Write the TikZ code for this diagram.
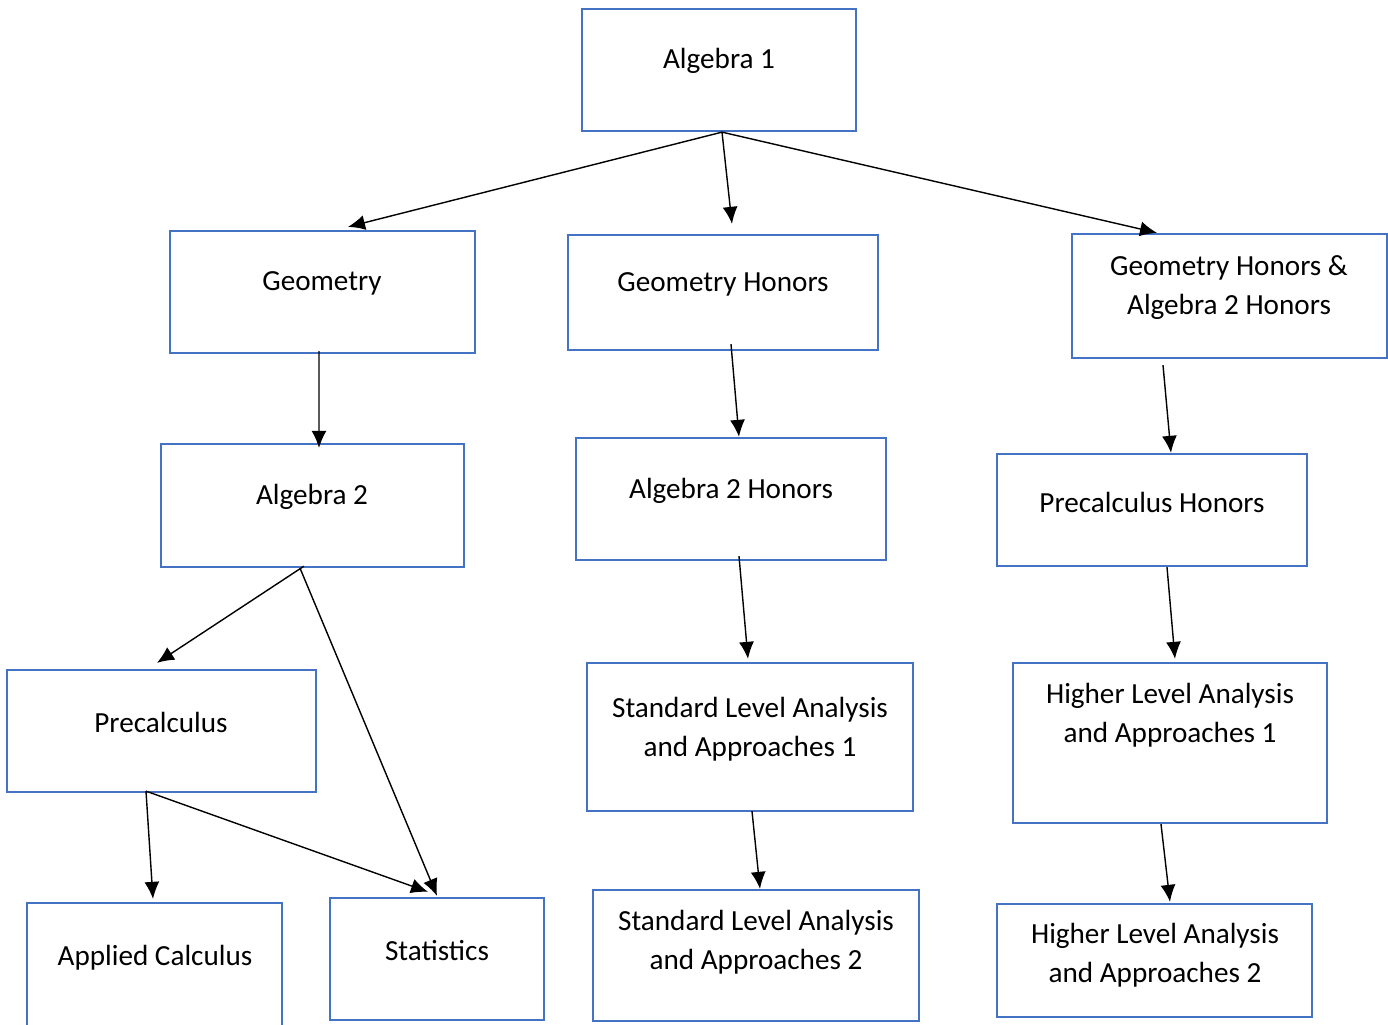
\documentclass[tikz,border=0pt]{standalone}
\usepackage{fontspec}
\setmainfont{Carlito}
\usetikzlibrary{arrows.meta}
\definecolor{boxblue}{HTML}{4472C4}

\begin{document}
\begin{tikzpicture}[
	box/.style={draw=boxblue, line width=1.3pt, rectangle},
	txt/.style={align=center, inner sep=0pt, yshift=-0.04cm, font=\fontsize{16.6}{22.2}\selectfont},
	arr/.style={-{Latex[length=0.34cm,width=0.3cm]}, line width=0.8pt}
	]
	
	\clip (0,0) rectangle (27.76,-20.5);
	\useasboundingbox (0,0) rectangle (27.76,-20.5);
	
	% course boxes
	\node [box, minimum width=5.48cm, minimum height=2.44cm] (alg1) at (14.38,-1.40){};
	\node [box, minimum width=6.10cm, minimum height=2.44cm] (geo) at (6.45,-5.84){};
	\node [box, minimum width=6.20cm, minimum height=2.30cm] (geoh) at (14.46,-5.85){};
	\node [box, minimum width=6.30cm, minimum height=2.48cm] (gha) at (24.59,-5.92){};
	\node [box, minimum width=6.06cm, minimum height=2.46cm] (alg2) at (6.25,-10.11){};
	\node [box, minimum width=6.20cm, minimum height=2.44cm] (alg2h) at (14.62,-9.98){};
	\node [box, minimum width=6.20cm, minimum height=2.24cm] (pch) at (23.04,-10.20){};
	\node [box, minimum width=6.18cm, minimum height=2.44cm] (prec) at (3.23,-14.62){};
	\node [box, minimum width=6.52cm, minimum height=2.96cm] (sl1) at (15.00,-14.74){};
	\node [box, minimum width=6.28cm, minimum height=3.20cm] (hl1) at (23.40,-14.86){};
	\node [box, minimum width=5.10cm, minimum height=2.50cm] (apc) at (3.09,-19.31){};
	\node [box, minimum width=4.28cm, minimum height=2.44cm] (stat) at (8.74,-19.18){};
	\node [box, minimum width=6.52cm, minimum height=2.62cm] (sl2) at (15.12,-19.11){};
	\node [box, minimum width=6.30cm, minimum height=2.26cm] (hl2) at (23.09,-19.21){};
	
	% course names
	\node [txt] (alg1t) at (14.38,-1.18){Algebra 1};
	\node [txt] (geot) at (6.44,-5.62){Geometry};
	\node [txt] (geoht) at (14.46,-5.64){Geometry Honors};
	\node [txt] (ghat) at (24.58,-5.71){Geometry Honors \&\\Algebra 2 Honors};
	\node [txt] (alg2t) at (6.24,-9.90){Algebra 2};
	\node [txt] (alg2ht) at (14.62,-9.78){Algebra 2 Honors};
	\node [txt] (pcht) at (23.04,-10.00){Precalculus Honors};
	\node [txt] (prect) at (3.22,-14.40){Precalculus};
	\node [txt] (sl1t) at (15.00,-14.54){Standard Level Analysis\\and Approaches 1};
	\node [txt] (hl1t) at (23.40,-14.27){Higher Level Analysis\\and Approaches 1};
	\node [txt] (apct) at (3.10,-19.12){Applied Calculus};
	\node [txt] (statt) at (8.74,-18.98){Statistics};
	\node [txt] (sl2t) at (15.12,-18.81){Standard Level Analysis\\and Approaches 2};
	\node [txt] (hl2t) at (23.10,-19.07){Higher Level Analysis\\and Approaches 2};
	
	\draw[arr] ([xshift=0.06cm]alg1.south) -- ([xshift=0.51cm,yshift=0.06cm]geo.north);
	\draw[arr] ([xshift=0.06cm]alg1.south) -- ([xshift=0.18cm,yshift=0.2cm]geoh.north);
	\draw[arr] ([xshift=0.06cm]alg1.south) -- ([xshift=-1.45cm]gha.north);
	\draw[arr] ([xshift=-0.07cm,yshift=0.06cm]geo.south) -- ([xshift=0.13cm,yshift=-0.1cm]alg2.north);
	\draw[arr] ([xshift=0.16cm,yshift=0.14cm]geoh.south) -- ([xshift=0.16cm]alg2h.north);
	\draw[arr] ([xshift=-1.33cm,yshift=-0.12cm]gha.south) -- ([xshift=0.38cm]pch.north);
	\draw[arr] ([xshift=-0.17cm,yshift=0.04cm]alg2.south) -- ([xshift=-0.09cm,yshift=0.12cm]prec.north);
	\draw[arr] ([xshift=-0.25cm]alg2.south) -- ([yshift=0.02cm]stat.north);
	\draw[arr] ([xshift=-0.31cm,yshift=0.04cm]prec.south) -- ([xshift=-0.03cm,yshift=0.06cm]apc.north);
	\draw[arr] ([xshift=-0.31cm,yshift=0.04cm]prec.south) -- ([xshift=-0.18cm,yshift=0.1cm]stat.north);
	\draw[arr] ([xshift=0.16cm,yshift=0.1cm]alg2h.south) -- ([xshift=-0.04cm,yshift=0.06cm]sl1.north);
	\draw[arr] ([xshift=0.04cm,yshift=0.02cm]sl1.south) -- ([xshift=0.08cm]sl2.north);
	\draw[arr] ([xshift=0.3cm]pch.south) -- ([xshift=0.1cm,yshift=0.06cm]hl1.north);
	\draw[arr] ([xshift=-0.18cm]hl1.south) -- ([xshift=0.31cm,yshift=0.02cm]hl2.north);
	
\end{tikzpicture}
\end{document}
